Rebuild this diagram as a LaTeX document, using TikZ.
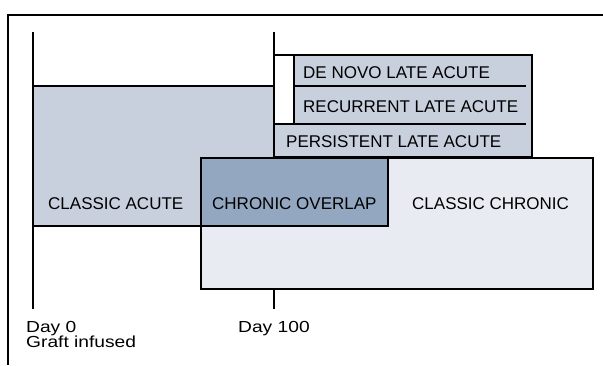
\documentclass[tikz,border=0pt]{standalone}
\usepackage{fontspec}
\setmainfont{Liberation Sans}
\newfontfamily\dayfont[FakeStretch=1.2]{Liberation Sans}
\definecolor{acutefill}{HTML}{C8D0DE}
\definecolor{overlapfill}{HTML}{93A7C1}
\definecolor{chronicfill}{HTML}{E8ECF2}
\tikzset{
  box/.style={draw=black, line width=1.6pt},
  axisline/.style={line width=2.2pt},
  boxlabel/.style={anchor=base west, inner sep=0pt, font=\fontsize{17}{20}\selectfont},
  daylabel/.style={anchor=base west, inner sep=0pt, font=\dayfont\fontsize{16}{16}\selectfont}
}
\begin{document}
\begin{tikzpicture}[x=1pt,y=-1pt]
        \useasboundingbox (0,0) rectangle (603,365);

        % Draw the frame
        \draw[line width=2pt] (603,15) -- (8,15) -- (8,365);

        % Draw the day lines
        \coordinate (d0top) at (33,32);
        \coordinate (d0bot) at (33,309);
        \coordinate (d100top) at (274,32);
        \coordinate (d100bot) at (274,309);
        \draw[axisline] (d0top) -- (d0bot);
        \draw[axisline] (d100top) -- (d100bot);

        % Draw the classic acute box
        \draw[box, fill=acutefill] (33,86) rectangle (274,226);

        % Draw the late acute block and its rows
        \draw[box, fill=acutefill] (274,55) rectangle (532,157);
        \draw[box, fill=white] (274,55) rectangle (294,124);
        \draw[box] (294,86) -- (526,86);
        \draw[box] (274,124) -- (526,124);

        % Draw the classic chronic box and the overlap
        \draw[box, fill=chronicfill] (201,158) rectangle (593,289);
        \draw[box, fill=overlapfill] (201,158) rectangle (388,226);

        % Draw the labels of the boxes
        \node[boxlabel] (denovo) at (303,78) {DE NOVO LATE ACUTE};
        \node[boxlabel] (recurrent) at (303,112) {RECURRENT LATE ACUTE};
        \node[boxlabel] (persistent) at (286,147) {PERSISTENT LATE ACUTE};
        \node[boxlabel] (acute) at (48,209) {CLASSIC ACUTE};
        \node[boxlabel] (overlap) at (212,209) {CHRONIC OVERLAP};
        \node[boxlabel] (chronic) at (412,209) {CLASSIC CHRONIC};

        % Draw the labels of the days
        \node[daylabel] (day0) at (26,332) {Day 0};
        \node[daylabel] (graft) at (26,347) {Graft infused};
        \node[daylabel] (day100) at (238,332) {Day 100};

    \end{tikzpicture}
\end{document}
